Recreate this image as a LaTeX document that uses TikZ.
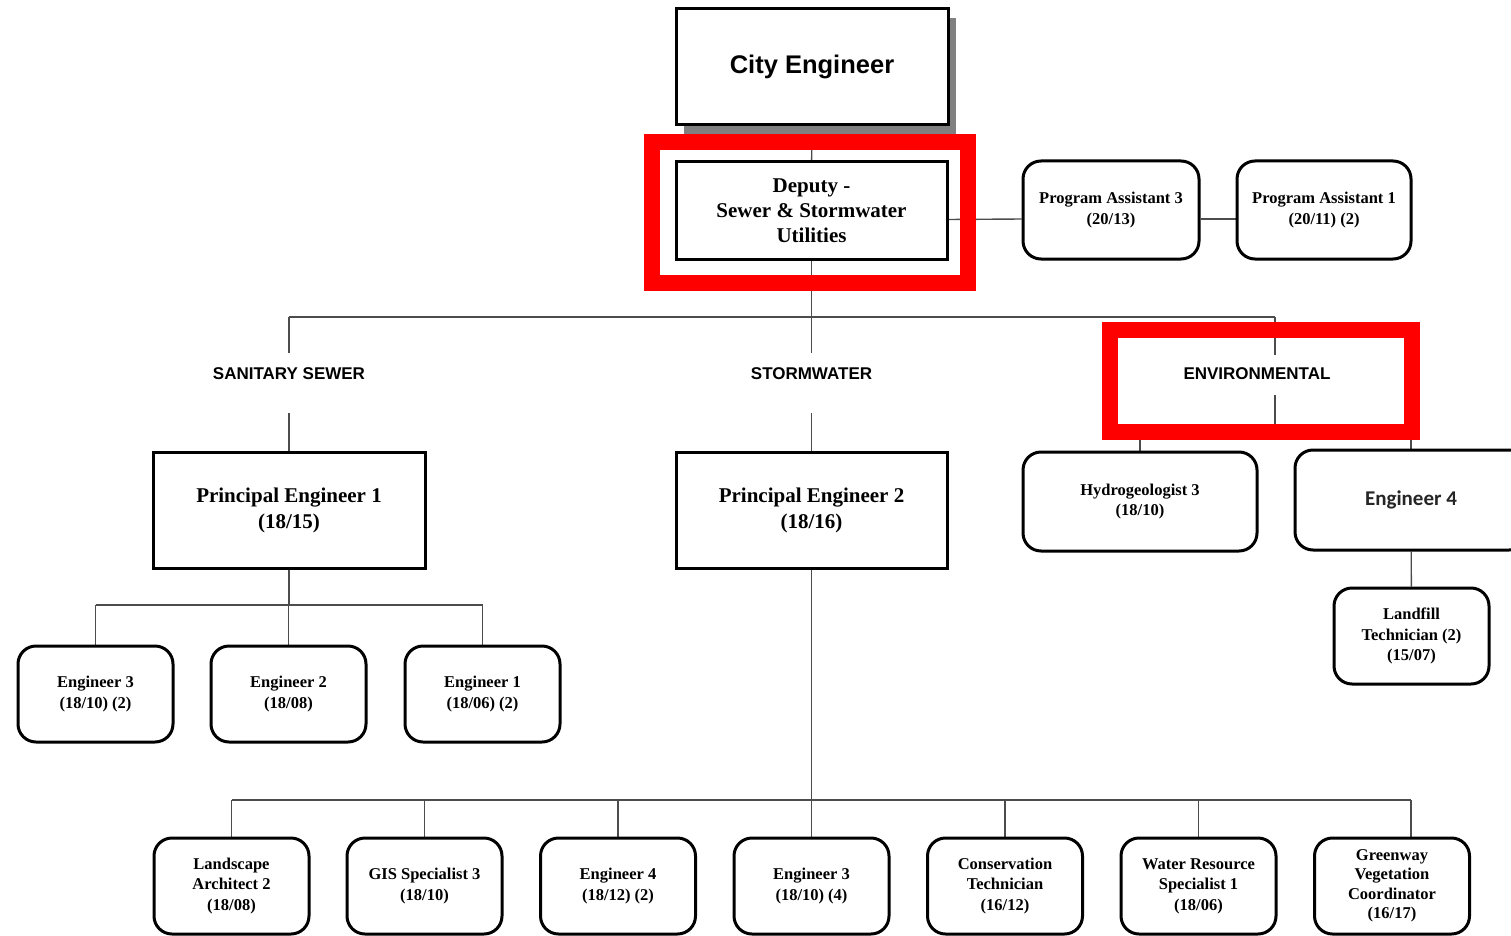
\documentclass[tikz,border=0pt]{standalone}
\usepackage{fontspec}
\setmainfont{Liberation Serif}
\newfontfamily\hsans{Liberation Sans}
\newfontfamily\carl{Carlito}
\usetikzlibrary{shadows,backgrounds}
\begin{document}
\begin{tikzpicture}[x=1pt,y=-1pt,
  line/.style={line width=1.4pt, draw=black!70},
  sqbox/.style={draw, line width=3pt, fill=white, inner sep=0pt, align=center, font=\bfseries\fontsize{21}{26}\selectfont},
  rbox/.style={draw, line width=3pt, fill=white, rounded corners=18pt, inner sep=0pt, minimum width=155pt, minimum height=96pt, align=center, font=\bfseries\fontsize{16.5}{20.5}\selectfont},
  hdr/.style={font=\hsans\bfseries\fontsize{17}{20}\selectfont, inner sep=0pt},
  redbox/.style={draw=red, line width=16pt}
]
\useasboundingbox (0,0) rectangle (1511,936);

% top
\node[sqbox, minimum width=272pt, minimum height=116pt, font=\hsans\bfseries\fontsize{25.5}{30}\selectfont,
      drop shadow={shadow xshift=8pt,shadow yshift=-9pt,fill=black!50,opacity=1}] (ce) at (812,67) {City Engineer};
\node[sqbox, minimum width=271pt, minimum height=97pt, font=\bfseries\fontsize{21}{25}\selectfont] (dep) at (811.5,210.5) {Deputy -\\Sewer \& Stormwater\\Utilities};
\node[rbox, minimum width=176pt, minimum height=98pt] (pa3) at (1111,210) {Program Assistant 3\\(20/13)};
\node[rbox, minimum width=174pt, minimum height=98pt] (pa1) at (1324,210) {Program Assistant 1\\(20/11) (2)};

% section labels
\node[hdr] (ss) at (289,374) {SANITARY SEWER};
\node[hdr] (sw) at (811.5,374) {STORMWATER};
\node[hdr] (env) at (1257,374) {ENVIRONMENTAL};

% principal
\node[sqbox, minimum width=272pt, minimum height=116pt] (pe1) at (289,510) {Principal Engineer 1\\(18/15)};
\node[sqbox, minimum width=271pt, minimum height=116pt] (pe2) at (811.5,510) {Principal Engineer 2\\(18/16)};

% environmental
\node[rbox, minimum width=234pt, minimum height=99pt] (hyd) at (1140,501.5) {Hydrogeologist 3\\(18/10)};
\node[rbox, minimum width=232pt, minimum height=100pt, font=\carl\bfseries\fontsize{21}{25}\selectfont, text=black!85] (e4r) at (1411,500) {Engineer 4};
\node[rbox] (lf) at (1411.5,636) {Landfill\\Technician (2)\\(15/07)};

% sanitary row
\node[rbox] (e3) at (95.5,694) {Engineer 3\\(18/10) (2)};
\node[rbox] (e2) at (288.5,694) {Engineer 2\\(18/08)};
\node[rbox] (e1) at (482.5,694) {Engineer 1\\(18/06) (2)};

% stormwater row
\node[rbox] (la) at (231.5,886) {Landscape\\Architect 2\\(18/08)};
\node[rbox] (gis) at (424.5,886) {GIS Specialist 3\\(18/10)};
\node[rbox] (b4) at (618,886) {Engineer 4\\(18/12) (2)};
\node[rbox] (b3) at (811.5,886) {Engineer 3\\(18/10) (4)};
\node[rbox] (ct) at (1005,886) {Conservation\\Technician\\(16/12)};
\node[rbox] (wr) at (1198.5,886) {Water Resource\\Specialist 1\\(18/06)};
\node[rbox, font=\bfseries\fontsize{16.5}{19.5}\selectfont] (gw) at (1392,886) {Greenway\\Vegetation\\Coordinator\\(16/17)};

% junction coordinates
\coordinate (jL) at (289,317);
\coordinate (jM) at (811.5,317);
\coordinate (jR) at (1275,317);
\coordinate (ssT) at (289,353);
\coordinate (ssB) at (289,413);
\coordinate (swT) at (811.5,353);
\coordinate (swB) at (811.5,413);
\coordinate (enT) at (1275,355);
\coordinate (enB) at (1275,395);
\coordinate (enJ) at (1275,431);
\coordinate (r1) at (289,605);
\coordinate (r2) at (811.5,800);
\coordinate (gwT) at (1411,838);

\begin{scope}[on background layer]
\draw[line] (ce) -- (dep);
\draw[line] ([yshift=-9pt]dep.east) -- ([yshift=-9pt]pa3.west);
\draw[line] ([yshift=-9pt]pa3.east) -- ([yshift=-9pt]pa1.west);
\draw[line] (dep) -- (jM);
\draw[line] (jL) -- (jR);
\draw[line] (jL) -- (ssT);
\draw[line] (ssB) -- (pe1);
\draw[line] (jM) -- (swT);
\draw[line] (swB) -- (pe2);
\draw[line] (jR) -- (enT);
\draw[line] (enB) -- (enJ);
\draw[line] (hyd.north |- enJ) -- (e4r.north |- enJ);
\draw[line] (hyd.north |- enJ) -- (hyd.north);
\draw[line] (e4r.north |- enJ) -- (e4r.north);
\draw[line] (e4r) -- (lf);
% sanitary
\draw[line] (pe1) -- (r1);
\draw[line] (e3.north |- r1) -- (e1.north |- r1);
\draw[line] (e3.north |- r1) -- (e3.north);
\draw[line] (e2.north |- r1) -- (e2.north);
\draw[line] (e1.north |- r1) -- (e1.north);
% stormwater
\draw[line] (pe2) -- (r2);
\draw[line] (la.north |- r2) -- (gwT |- r2);
\draw[line] (la.north |- r2) -- (la.north);
\draw[line] (gis.north |- r2) -- (gis.north);
\draw[line] (b4.north |- r2) -- (b4.north);
\draw[line] (b3.north |- r2) -- (b3.north);
\draw[line] (ct.north |- r2) -- (ct.north);
\draw[line] (wr.north |- r2) -- (wr.north);
\draw[line] (gwT |- r2) -- (gwT);
\end{scope}

% highlight frames
\draw[redbox] (651.5,142) rectangle (967.5,283);
\draw[redbox] (1110,330) rectangle (1411.5,431.5);
\end{tikzpicture}
\end{document}
